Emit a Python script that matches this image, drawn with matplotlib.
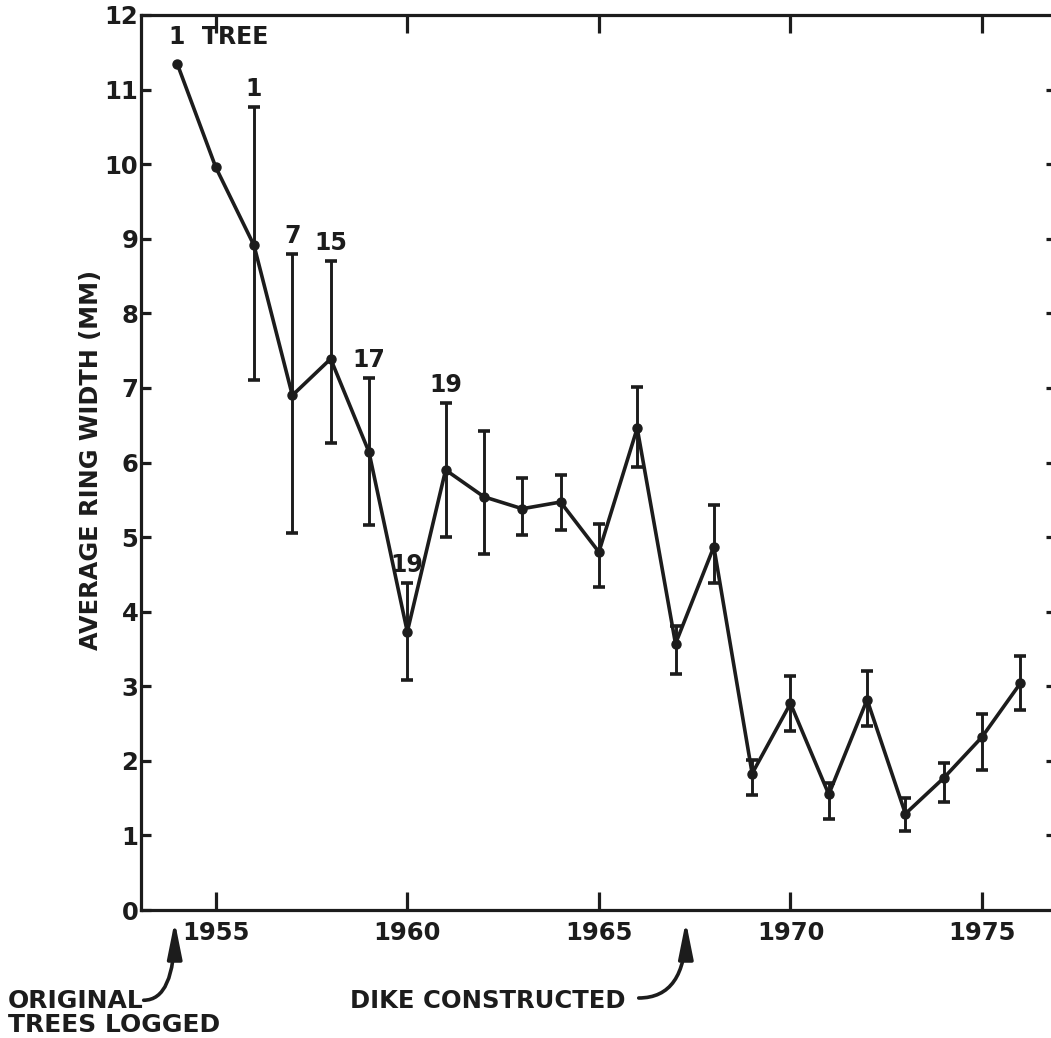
import matplotlib
matplotlib.use("Agg")
import matplotlib.pyplot as plt
import numpy as np

# ---------------- data ----------------
years = [1954, 1955, 1956, 1957, 1958, 1959, 1960, 1961, 1962, 1963, 1964, 1965,
         1966, 1967, 1968, 1969, 1970, 1971, 1972, 1973, 1974, 1975, 1976]
ring_width = [11.34, 9.96, 8.91, 6.90, 7.39, 6.14, 3.73, 5.90, 5.54, 5.38, 5.47, 4.80,
              6.46, 3.57, 4.87, 1.83, 2.77, 1.55, 2.82, 1.29, 1.77, 2.32, 3.04]
err_low = [None, None, 7.10, 5.05, 6.26, 5.16, 3.08, 5.00, 4.77, 5.03, 5.09, 4.33,
           5.94, 3.17, 4.38, 1.54, 2.40, 1.22, 2.47, 1.06, 1.45, 1.88, 2.68]
err_high = [None, None, 10.76, 8.79, 8.70, 7.13, 4.38, 6.80, 6.42, 5.79, 5.83, 5.17,
            7.01, 3.81, 5.43, 2.01, 3.14, 1.70, 3.20, 1.50, 1.97, 2.63, 3.40]
count_years = [1954, 1956, 1957, 1958, 1959, 1960, 1961]
count_labels = ["1  TREE", "1", "7", "15", "17", "19", "19"]
x_ticks = [1955, 1960, 1965, 1970, 1975]
y_ticks = list(range(0, 13))
y_label = "AVERAGE RING WIDTH (MM)"
note_logged = ["ORIGINAL", "TREES LOGGED"]
note_dike = "DIKE CONSTRUCTED"
logged_year = 1953.93
dike_year = 1967.27

INK = "#1c1c1c"
FONT = "DejaVu Sans"

W, H = 1051, 1038
fig = plt.figure(figsize=(W / 100, H / 100), dpi=100)
fig.patch.set_facecolor("white")

left_px, right_px, top_px, bottom_px = 141, 1056, 15, 910
ax = fig.add_axes([left_px / W, 1 - bottom_px / H,
                   (right_px - left_px) / W, (bottom_px - top_px) / H])
ax.set_xlim(1953.05, 1976.93)
ax.set_ylim(0, 12)

for s in ax.spines.values():
    s.set_linewidth(2.3)
    s.set_color(INK)

# main line
ax.plot(years, ring_width, color=INK, lw=2.6, marker="o", ms=6.5,
        mfc=INK, mec=INK, zorder=3, solid_joinstyle="round")

# error bars
ey, ev, elo, ehi = [], [], [], []
for yr, v, lo, hi in zip(years, ring_width, err_low, err_high):
    if lo is not None:
        ey.append(yr); ev.append(v); elo.append(v - lo); ehi.append(hi - v)
ax.errorbar(ey, ev, yerr=[elo, ehi], fmt="none", ecolor=INK, elinewidth=2.1,
            capsize=4.5, capthick=2.6, zorder=2)

# counts labels
for yr, lab in zip(count_years, count_labels):
    i = years.index(yr)
    top = err_high[i] if err_high[i] is not None else ring_width[i] + 0.08
    if "TREE" in lab:
        ax.annotate(lab, xy=(yr, top), xytext=(-6, 7), textcoords="offset points",
                    ha="left", va="bottom", fontsize=17, fontweight="bold",
                    family=FONT, color=INK)
    else:
        ax.annotate(lab, xy=(yr, top), xytext=(0, 4.5), textcoords="offset points",
                    ha="center", va="bottom", fontsize=17, fontweight="bold",
                    family=FONT, color=INK)

# ticks
ax.set_xticks(x_ticks)
ax.set_xticklabels([str(t) for t in x_ticks])
ax.set_yticks(y_ticks)
ax.set_yticklabels([str(t) for t in y_ticks])
ax.tick_params(axis="x", which="both", direction="in", length=13, width=2.3,
               top=True, bottom=True, pad=8, colors=INK)
ax.tick_params(axis="y", which="both", direction="in", length=7.5, width=2.3,
               left=True, right=True, pad=2, colors=INK)
for lab in ax.get_xticklabels() + ax.get_yticklabels():
    lab.set_fontsize(17.5)
    lab.set_fontweight("bold")
    lab.set_family(FONT)
    lab.set_color(INK)
for t in ax.yaxis.get_major_ticks():
    if t.get_loc() in (0, 12):
        t.tick2line.set_visible(False)

ax.set_ylabel(y_label, fontsize=17.3, fontweight="bold", family=FONT, color=INK)
ax.yaxis.set_label_coords(-0.0415, 0.503)

# annotations below axes
fig.text(8 / W, 1 - 1008 / H, note_logged[0], ha="left", va="baseline",
         fontsize=18, fontweight="bold", family=FONT, color=INK)
fig.text(8 / W, 1 - 1032 / H, note_logged[1], ha="left", va="baseline",
         fontsize=18, fontweight="bold", family=FONT, color=INK)
fig.text(350 / W, 1 - 1008 / H, note_dike, ha="left", va="baseline",
         fontsize=17.5, fontweight="bold", family=FONT, color=INK)

arrow_kw = dict(arrowstyle="-|>,head_length=1.1,head_width=0.22", color=INK,
                lw=2.6, mutation_scale=20, shrinkA=0, shrinkB=0)
ax.annotate("", xy=(logged_year, -0.15), xytext=(1953.12, -1.21),
            xycoords="data", textcoords="data", annotation_clip=False,
            arrowprops=dict(connectionstyle="angle3,angleA=0,angleB=90", **arrow_kw))
ax.annotate("", xy=(dike_year, -0.15), xytext=(1966.04, -1.18),
            xycoords="data", textcoords="data", annotation_clip=False,
            arrowprops=dict(connectionstyle="angle3,angleA=0,angleB=90", **arrow_kw))

fig.savefig("out.png", dpi=100, facecolor="white")
